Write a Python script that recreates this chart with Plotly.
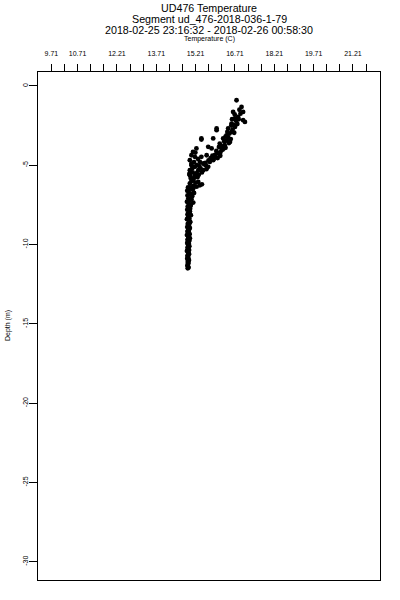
import plotly.graph_objects as go

# ---- data (temperature in C, depth in m) ----
cluster_temp = [
    16.77, 16.96, 17.02, 16.64, 16.71, 16.83, 17.02, 16.58, 16.71, 16.45,
    16.01, 16.58, 16.39, 16.26, 15.43, 15.88, 16.52, 16.13, 16.32, 15.69,
    15.82, 15.24, 15.11, 16.20, 16.07, 15.63, 15.05, 15.18, 15.43, 15.94,
    15.88, 14.99, 15.37, 15.50, 15.75, 15.05, 15.18, 15.69, 14.99, 15.31,
    15.50, 14.99, 15.18, 15.11, 15.31, 14.99, 15.37, 17.09, 16.01, 15.43,
    16.70, 16.75, 16.66, 16.80, 16.62, 16.50, 16.45, 16.40, 16.55, 16.48,
    16.35, 16.25, 16.15, 16.30, 16.20, 16.88, 16.92, 16.85, 16.60, 16.68,
    16.10, 16.00, 15.95, 16.05, 15.90, 16.15, 16.22, 16.35, 16.42, 16.57,
    15.20, 15.30, 15.15, 15.05, 15.25, 15.40, 15.60, 15.62, 15.10, 15.25,
    15.45, 15.02, 15.15, 15.28, 15.05, 15.20, 15.45, 15.00, 15.12, 15.25,
    15.55, 15.70, 15.78, 15.35, 15.08, 14.97, 15.12, 15.33, 15.58, 15.85,
]
cluster_depth = [
    -0.90, -1.32, -1.64, -1.64, -2.05, -1.95, -2.16, -2.37, -2.58, -2.68,
    -2.68, -2.90, -3.11, -3.31, -3.31, -3.31, -3.53, -3.63, -3.74, -3.84,
    -3.94, -3.94, -4.16, -4.05, -4.26, -4.37, -4.37, -4.47, -4.47, -4.47,
    -4.68, -4.68, -4.79, -4.89, -4.79, -5.00, -5.10, -5.10, -5.31, -5.31,
    -5.31, -5.63, -5.63, -5.94, -6.05, -6.15, -6.26, -2.27, -2.79, -3.38,
    -1.80, -2.20, -2.45, -2.40, -2.75, -3.00, -3.25, -3.45, -3.35, -3.60,
    -3.90, -4.00, -4.20, -3.50, -3.80, -1.50, -1.75, -2.10, -2.10, -2.95,
    -3.85, -4.10, -4.35, -4.55, -4.60, -4.40, -3.95, -3.20, -2.90, -2.50,
    -4.20, -4.60, -4.80, -4.90, -5.00, -5.20, -5.00, -5.25, -5.45, -5.50,
    -5.45, -5.80, -5.80, -5.75, -6.00, -6.10, -6.20, -6.40, -6.45, -6.35,
    -4.95, -4.70, -4.55, -5.05, -5.20, -5.55, -6.30, -5.60, -4.85, -4.40,
]
column_temp = [
    14.92, 14.97, 14.89, 14.95, 15.00, 14.90, 15.05, 14.93, 14.98, 14.88,
    14.95, 15.02, 14.91, 14.96, 14.89, 14.99, 14.93, 14.90, 14.97, 14.92,
    14.88, 14.95, 15.00, 14.91, 14.94, 14.89, 14.97, 14.92, 14.90, 14.96,
    14.88, 14.93, 14.99, 14.90, 14.95, 14.89, 14.92, 14.97, 14.90, 14.94,
    14.88, 14.93, 14.96, 14.90, 14.92, 14.89, 14.95, 14.91, 14.93, 14.90,
    14.92, 14.91,
    15.10, 15.15, 15.08, 15.05, 15.12, 15.02, 15.00, 14.98, 15.03, 14.97,
    15.00, 14.96, 14.99, 14.95, 14.98, 14.94, 14.97, 14.95, 14.93, 14.96,
    14.94, 14.92, 14.95, 14.93, 14.91, 14.94,
]
column_depth = [
    -6.4, -6.5, -6.6, -6.7, -6.8, -6.9, -7.0, -7.1, -7.2, -7.3,
    -7.4, -7.5, -7.6, -7.7, -7.8, -7.9, -8.0, -8.1, -8.2, -8.3,
    -8.4, -8.5, -8.6, -8.7, -8.8, -8.9, -9.0, -9.1, -9.2, -9.3,
    -9.4, -9.5, -9.6, -9.7, -9.8, -9.9, -10.0, -10.1, -10.2, -10.3,
    -10.4, -10.5, -10.6, -10.7, -10.8, -10.9, -11.0, -11.1, -11.2, -11.3,
    -11.4, -11.5,
    -6.55, -6.75, -6.95, -7.15, -7.35, -7.55, -7.75, -7.95, -8.15, -8.35,
    -8.55, -8.75, -8.95, -9.15, -9.35, -9.55, -9.75, -9.95, -10.15, -10.35,
    -10.55, -10.75, -10.95, -11.15, -11.35, -11.45,
]

x_tick_vals = [9.71, 10.21, 10.71, 11.21, 11.71, 12.21, 12.71, 13.21, 13.71,
               14.21, 14.71, 15.21, 15.71, 16.21, 16.71, 17.21, 17.71, 18.21,
               18.71, 19.21, 19.71, 20.21, 20.71, 21.21, 21.71]
x_tick_text = ["9.71", "", "10.71", "", "", "12.21", "", "", "13.71",
               "", "", "15.21", "", "", "16.71", "", "", "18.21",
               "", "", "19.71", "", "", "21.21", ""]
y_tick_vals = [0, -5, -10, -15, -20, -25, -30]
y_tick_text = ["0", "-5", "-10", "-15", "-20", "-25", "-30"]

title_lines = ["UD476 Temperature",
               "Segment ud_476-2018-036-1-79",
               "2018-02-25 23:16:32 - 2018-02-26 00:58:30"]
x_title = "Temperature (C)"
y_title = "Depth (m)"

FONT = "Liberation Sans, Arial, sans-serif"

fig = go.Figure()
fig.add_trace(go.Scatter(
    x=cluster_temp + column_temp, y=cluster_depth + column_depth,
    mode="markers",
    marker=dict(color="black", size=4.8, line=dict(width=0)),
    hoverinfo="x+y", showlegend=False,
))

fig.update_layout(
    width=400, height=600,
    margin=dict(l=38, r=20, t=72, b=20, pad=0),
    paper_bgcolor="white", plot_bgcolor="white",
    font=dict(family=FONT, color="black"),
    xaxis=dict(
        side="top", range=[9.20, 22.24], tickmode="array",
        tickvals=x_tick_vals, ticktext=x_tick_text,
        ticks="outside", ticklen=7, tickwidth=1, tickcolor="black",
        showline=True, linecolor="black", linewidth=1, mirror=True,
        showgrid=False, zeroline=False,
        tickfont=dict(size=7, family=FONT, color="black"),
        ticklabelstandoff=5,
    ),
    yaxis=dict(
        range=[-31.15, 0.88], tickmode="array",
        tickvals=y_tick_vals, ticktext=y_tick_text, tickangle=-90,
        ticks="outside", ticklen=8, tickwidth=1, tickcolor="black",
        showline=True, linecolor="black", linewidth=1, mirror=True,
        showgrid=False, zeroline=False,
        tickfont=dict(size=7, family=FONT, color="black"),
        ticklabelstandoff=-2,
    ),
)

plot_top, plot_bottom, plot_h = 72, 580, 508
def ypaper(py):
    return (plot_bottom - py) / plot_h

for line, py in zip(title_lines, [7.5, 19, 30.5]):
    fig.add_annotation(text=line, x=0.5, y=ypaper(py), xref="paper", yref="paper",
                       xanchor="center", yanchor="middle", showarrow=False,
                       font=dict(size=10.7, family=FONT, color="black"))
fig.add_annotation(text=x_title, x=0.5, y=ypaper(39.5), xref="paper", yref="paper",
                   xanchor="center", yanchor="middle", showarrow=False,
                   font=dict(size=7, family=FONT, color="black"))
fig.add_annotation(text=y_title, x=(8 - 38) / 342, y=0.5, xref="paper", yref="paper",
                   xanchor="center", yanchor="middle", showarrow=False, textangle=-90,
                   font=dict(size=7, family=FONT, color="black"))

# remove the default page margin so the 400x600 figure fills the window exactly
fig.write_html("out.html",
               config={"displayModeBar": False},
               post_script="document.body.style.margin='0';document.body.style.padding='0';")
